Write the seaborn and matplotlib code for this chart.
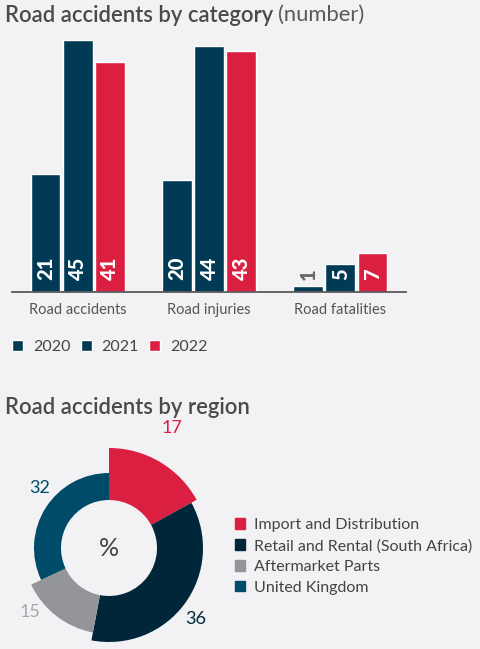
import numpy as np
import pandas as pd
import matplotlib.pyplot as plt
import seaborn as sns

# data
categories = ['Road accidents', 'Road injuries', 'Road fatalities']
years = ['2020', '2021', '2022']
vals_2020 = [21, 20, 1]
vals_2021 = [45, 44, 5]
vals_2022 = [41, 43, 7]

regions = ['Import and Distribution', 'Retail and Rental (South Africa)',
           'Aftermarket Parts', 'United Kingdom']
region_pct = [17, 36, 15, 32]

# styles
bg = '#F2F2F4'
navy = '#003A54'
red = '#DB1F40'
region_colors = ['#DB1F40', '#00263A', '#949599', '#004B69']
region_label_colors = ['#DB1F40', '#00263A', '#A7A8AB', '#004B69']
text_col = '#4A4A4A'

sns.set_theme(style='white')
plt.rcParams['font.family'] = ['Lato', 'DejaVu Sans']

W, H = 481, 649
fig = plt.figure(figsize=(W / 100, H / 100), dpi=100)
fig.patch.set_facecolor(bg)

def px(x0, y0, w, h):
    # pixel box (top-left origin) -> figure fraction
    return [x0 / W, (H - y0 - h) / H, w / W, h / H]

df = pd.DataFrame({
    'category': categories * 3,
    'year': [y for y in years for _ in categories],
    'value': vals_2020 + vals_2021 + vals_2022,
})

# ---- bar chart
ax = fig.add_axes(px(12, 23, 394, 269))
ax.set_facecolor(bg)
sns.barplot(data=df, x='category', y='value', hue='year', order=categories,
            hue_order=years, palette={'2020': navy, '2021': navy, '2022': red},
            width=0.735, gap=0.07, saturation=1, ax=ax)
ax.set_xlim(-0.5, 2.5)
ax.set_ylim(0, 269 / 5.6)
ax.set_xlabel('')
ax.set_ylabel('')
ax.set_yticks([])
for s in ['top', 'right', 'left']:
    ax.spines[s].set_visible(False)
ax.spines['bottom'].set_color('#5A5A5A')
ax.spines['bottom'].set_linewidth(1.3)
ax.tick_params(axis='x', length=0, pad=8, labelsize=10.5, labelcolor='#555555')

for cont, year in zip(ax.containers, years):
    for bar, v in zip(cont, df[df.year == year].value):
        inside = v >= 4
        ax.text(bar.get_x() + bar.get_width() / 2, 2.2, str(v), rotation=90,
                ha='center', va='bottom', fontsize=14.5, fontweight='black',
                color='white' if inside else '#666666')

handles, labels = ax.get_legend_handles_labels()
ax.legend(handles, labels, loc='upper left', bbox_to_anchor=(0.0, -0.178),
          ncol=3, frameon=False, handlelength=0.7, handleheight=0.7,
          handletextpad=0.6, columnspacing=0.65, fontsize=11.5,
          labelcolor='#444444', borderaxespad=0, borderpad=0)

t1 = fig.text(5 / W, 1 - 15 / H, 'Road accidents by category', fontsize=15.8,
              fontweight='semibold', color=text_col, va='center', ha='left')
fig.canvas.draw()
bb = t1.get_window_extent()
fig.text((bb.x1 + 5) / W, 1 - 15 / H, '(number)', fontsize=15.8,
         color='#5A5A5A', va='center', ha='left')

# ---- donut
ax2 = fig.add_axes(px(-1, 438, 220, 220))
ax2.set_facecolor('none')
radii = [100, 94, 86, 75]
r_in = 48
wedges, _ = ax2.pie(region_pct, colors=region_colors, startangle=90,
                    counterclock=False, radius=100)
for w, r in zip(wedges, radii):
    w.set_radius(r)
    w.set_width(r - r_in)
    w.set_linewidth(0)
ax2.set_xlim(-110, 110)
ax2.set_ylim(-110, 110)
ax2.set_aspect('equal')
ax2.axis('off')
ax2.text(0, 0, '%', ha='center', va='center', fontsize=18, color='#444444')

label_offsets = [(63, 120), (87, -71), (-79, -64), (-69, 60)]
for (dx, dy), v, c in zip(label_offsets, region_pct, region_label_colors):
    ax2.text(dx, dy, str(v), ha='center', va='center', fontsize=13, color=c)

leg_handles = [plt.Rectangle((0, 0), 1, 1, color=c) for c in region_colors]
fig.legend(leg_handles, regions, loc='center left',
           bbox_to_anchor=(235 / W, 1 - 556.5 / H), frameon=False,
           handlelength=0.65, handleheight=0.65, handletextpad=0.55,
           labelspacing=0.42, fontsize=11.5, labelcolor='#444444',
           borderaxespad=0, borderpad=0)

fig.text(5 / W, 1 - 407 / H, 'Road accidents by region', fontsize=15.8,
         fontweight='semibold', color=text_col, va='center', ha='left')

fig.savefig('out.png', dpi=100, facecolor=bg)
